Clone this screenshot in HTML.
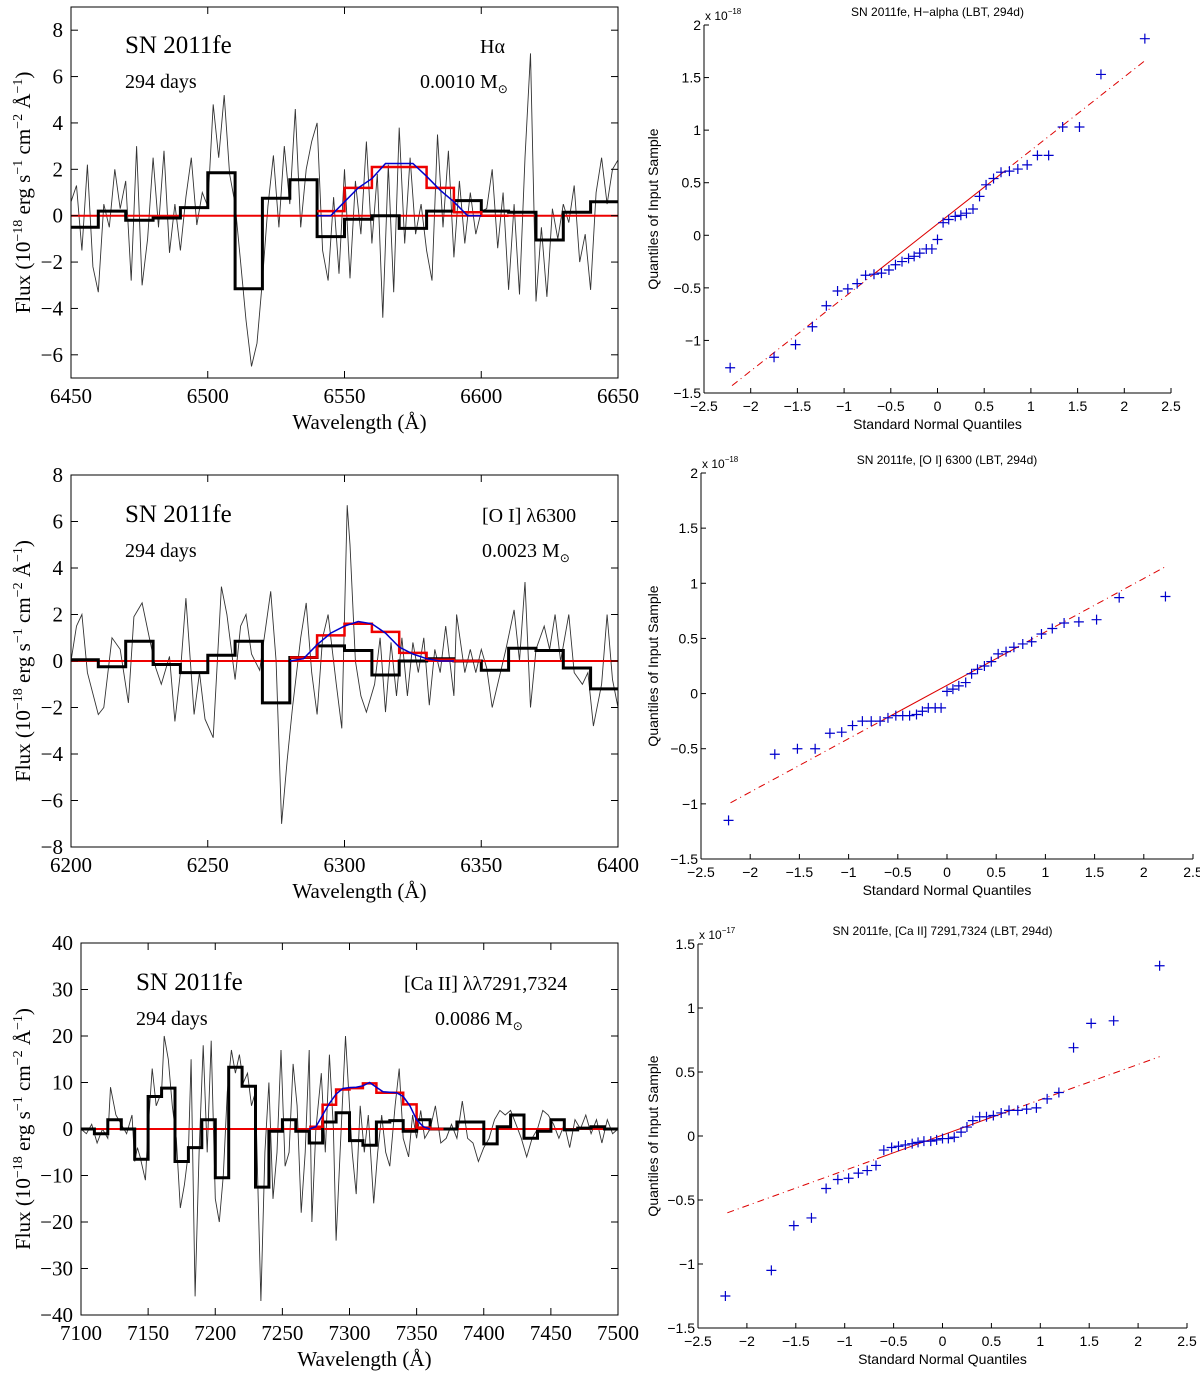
<!DOCTYPE html>
<html><head><meta charset="utf-8"><style>
html,body{margin:0;padding:0;background:#fff;width:1200px;height:1375px;overflow:hidden}
svg{display:block}
.ser{font-family:"Liberation Serif",serif;fill:#000}
.san{font-family:"Liberation Sans",sans-serif;fill:#000}
</style></head><body>
<svg id="fig" width="1200" height="1375" viewBox="0 0 1200 1375" xmlns="http://www.w3.org/2000/svg"></svg>
<script>
// ---------- Spectrum panel data ----------
const p1Flux = [0.6,1.3,-1.5,2.2,-2.2,-3.3,0.5,-0.5,2.0,0.3,1.5,-2.8,3.0,-3.0,-1.0,2.5,-0.5,2.8,-1.6,0.5,-1.5,0.8,2.5,-0.4,1.0,0.4,4.8,2.5,5.2,1.8,0.5,-2.0,-4.5,-6.5,-5.5,-2.8,0.4,2.6,-0.5,3.0,0.5,4.6,-0.5,2.0,3.2,4.0,-1.5,-2.8,0.8,-2.5,2.0,-2.7,1.5,-0.8,3.2,-1.2,1.8,-4.4,2.2,-3.3,3.8,-1.2,2.5,-0.8,0.5,-1.5,-2.8,3.5,-0.5,2.8,-1.8,1.5,-1.2,1.0,-0.8,0.2,0.3,2.0,-1.4,1.0,-3.2,0.5,-3.4,2.5,7.0,-3.7,-0.5,-3.5,0.3,-1.0,0.5,-0.3,1.3,-2.0,-0.8,-3.2,1.0,2.5,0.5,2.0,2.4];
const p1Wave = p1Flux.map((v,i)=>6450+i*2);
const p1Bins = [-0.5,0.2,-0.2,-0.1,0.35,1.85,-3.15,0.75,1.55,-0.9,-0.15,0.0,-0.55,0.2,0.65,0.2,0.15,-1.05,0.15,0.6];
const p1Model = [0,0,0,0,0,0,0,0,0,0.2,1.2,2.1,2.1,1.2,0.15,0,0,0,0,0];
const p1BlueX = [6540,6545,6550,6555,6560,6565,6570,6575,6580,6585,6590,6595,6600];
const p1BlueY = [0,0,0.6,1.2,1.6,2.25,2.25,2.25,1.7,1.1,0.6,0,0];

const p2Wave = [6200,6202,6204,6206,6210,6212,6215,6218,6221,6223,6226,6229,6231,6233,6236,6238,6240,6242,6245,6247,6249,6252,6255,6257,6260,6262,6264,6266,6269,6273,6275,6277,6279,6281,6284,6286,6288,6290,6292,6294,6297,6299,6301,6302,6304,6306,6308,6311,6313,6315,6317,6319,6321,6323,6325,6327,6329,6331,6333,6335,6337,6340,6341,6344,6346,6348,6350,6352,6354,6357,6359,6362,6364,6366,6368,6370,6373,6375,6377,6379,6382,6384,6387,6389,6391,6394,6396,6398,6400];
const p2Flux = [0,1.5,2,-0.5,-2.3,-2,1,0.5,-1.8,1.9,2.5,0.8,-0.3,-1,0.2,-2.6,-0.5,2.7,-2.3,-0.5,-2.5,-3.3,3.2,2,-0.8,1.5,2,0.3,-0.4,3,0,-7,-4.3,-2,1,2.5,-0.5,-2.3,1,2,-1,-2.9,6.7,5,0,-1.5,-2.2,-1,1,-2.2,0.8,-1.5,1,-1.5,0.8,-0.5,1,-1.9,0.5,-0.5,1.5,-1.5,2,-0.5,0.5,-0.5,0.5,-0.3,-2,-0.5,0.5,2.2,0,3.4,-2,0.5,1.5,0.5,2,0,2,-0.5,-1,-0.5,-2.8,-1,2,-0.8,-2];
const p2Bins = [0.05,-0.25,0.85,-0.15,-0.5,0.25,0.85,-1.8,0.15,0.65,0.45,-0.6,0.0,0.1,0.0,-0.4,0.55,0.45,-0.3,-1.2];
const p2Model = [0,0,0,0,0,0,0,0,0.15,1.1,1.6,1.25,0.35,0.05,0,0,0,0,0,0];
const p2BlueX = [6280,6285,6290,6295,6300,6305,6310,6315,6320,6325,6330,6335,6340];
const p2BlueY = [0,0.1,0.7,1.2,1.5,1.7,1.6,1.2,0.6,0.3,0.1,0,0];

const p3Wave = [7100,7104,7108,7112,7116,7120,7122,7126,7130,7134,7138,7140,7142,7144,7148,7150,7153,7156,7160,7162,7165,7168,7171,7174,7177,7180,7182,7185,7188,7191,7194,7197,7200,7203,7206,7209,7212,7215,7218,7221,7224,7227,7230,7232,7234,7237,7240,7243,7246,7249,7252,7255,7258,7261,7264,7267,7270,7272,7275,7279,7282,7285,7288,7290,7293,7297,7300,7302,7305,7308,7311,7314,7318,7321,7324,7327,7330,7334,7337,7340,7344,7347,7350,7353,7356,7360,7364,7368,7372,7376,7380,7384,7388,7392,7396,7400,7404,7408,7412,7416,7420,7424,7428,7432,7436,7440,7444,7448,7452,7456,7460,7464,7468,7472,7476,7480,7484,7488,7492,7496,7500];
const p3Flux = [0,-1,1,-3,0,-2,9,3,1,-1,3,-7,-4,-6,-11,0,13,5,8,20,15,5,-2,-17,-12,-5,15,-36,-5,18,-5,19,-15,-20,-10,8,17,12,16,10,12,5,8,-15,-37,-5,10,-15,-5,17,-8,-5,14,5,-18,-5,17,-20,0,12,-5,16,0,-24,-5,20,5,-5,-14,5,-5,3,-16,-5,3,-5,-8,5,13,-2,-6,3,-2,4,-2,0,5,-3,-2,1,-2,6,-2,-3,-7,-4,-2,2,4,3,4,1,-2,-6,-2,0,4,3,1,-2,1,-4,2,0,3,-1,2,-3,2,-1,0];
const p3Bins = [0,-1,2,0,-6.5,7,8.8,-7,-4,2,-10.5,13.3,9.2,-12.5,-0.5,2,-0.5,-3,1.5,3.5,-2.5,-3.5,1.5,1.8,-0.5,2,0,0,1.5,1.5,-3.2,0.5,3,-2,-0.5,2,-0.2,0.2,0.5,0];
const p3Model = [0,0,0,0,0,0,0,0,0,0,0,0,0,0,0,0,0,0.5,5.2,8.5,8.8,9.8,7.8,7.8,5.3,0.3,0,0,0,0,0,0,0,0,0,0,0,0,0,0];
const p3BlueX = [7270,7275,7280,7285,7290,7295,7300,7305,7310,7315,7320,7325,7330,7335,7340,7345,7350,7355,7360];
const p3BlueY = [0,0.5,3,5.5,7.5,8.7,8.9,9,9.3,10,9,8,7.9,7.8,7,5,2,0.5,0];

// ---------- QQ data ----------
const qqX = [-2.22,-1.75,-1.52,-1.34,-1.19,-1.07,-0.96,-0.86,-0.77,-0.68,-0.6,-0.52,-0.45,-0.38,-0.31,-0.25,-0.19,-0.12,-0.06,0,0.06,0.12,0.19,0.25,0.31,0.38,0.45,0.52,0.6,0.68,0.77,0.86,0.96,1.07,1.19,1.34,1.52,1.75,2.22];
const qq1Y = [-1.26,-1.16,-1.04,-0.87,-0.67,-0.53,-0.51,-0.46,-0.38,-0.37,-0.36,-0.33,-0.28,-0.25,-0.22,-0.2,-0.17,-0.13,-0.13,-0.04,0.12,0.15,0.18,0.19,0.21,0.25,0.37,0.48,0.54,0.6,0.61,0.63,0.67,0.76,0.76,1.03,1.03,1.53,1.87];
const qq2Y = [-1.15,-0.55,-0.5,-0.5,-0.36,-0.35,-0.29,-0.25,-0.25,-0.25,-0.22,-0.2,-0.2,-0.2,-0.19,-0.16,-0.13,-0.13,-0.13,0.02,0.04,0.07,0.1,0.18,0.22,0.25,0.29,0.36,0.38,0.42,0.45,0.47,0.54,0.59,0.64,0.65,0.67,0.87,0.88];
const qq3Y = [-1.25,-1.05,-0.7,-0.64,-0.41,-0.34,-0.33,-0.29,-0.27,-0.23,-0.11,-0.09,-0.08,-0.07,-0.06,-0.05,-0.04,-0.04,-0.03,-0.02,-0.02,-0.01,0.03,0.07,0.12,0.15,0.15,0.16,0.18,0.2,0.2,0.21,0.22,0.29,0.34,0.69,0.88,0.9,1.33];
const qq1LineY = [-1.43,1.66];
const qq2LineY = [-0.99,1.15];
const qq3LineY = [-0.6,0.62];
const qqLineX = [-2.2,2.22];
const qqTicks = ['-2.5','-2','-1.5','-1','-0.5','0','0.5','1','1.5','2','2.5'];

const NS='http://www.w3.org/2000/svg';
const fig=document.getElementById('fig');
function mk(parent,tag,attrs,name,inter){
  const el=document.createElementNS(NS,tag);
  for(const k in attrs) el.setAttribute(k,attrs[k]);
  
  
  parent.appendChild(el); return el;
}
function txt(parent,x,y,s,cls,size,name,anchor,extra){
  const t=mk(parent,'text',Object.assign({x:x,y:y,'font-size':size,'text-anchor':anchor||'start',class:cls},extra||{}),name,false);
  t.innerHTML=s; return t;
}

function spectrum(cfg){
  const g=mk(fig,'g',{},cfg.name,false);
  const sx=v=>cfg.L+(v-cfg.x0)/(cfg.x1-cfg.x0)*(cfg.R-cfg.L);
  const sy=v=>cfg.T+(cfg.y1-v)/(cfg.y1-cfg.y0)*(cfg.B-cfg.T);
  const clip='c'+cfg.name;
  const cp=mk(g,'clipPath',{id:clip},'clip',false);
  mk(cp,'rect',{x:cfg.L,y:cfg.T,width:cfg.R-cfg.L,height:cfg.B-cfg.T},'clip-rect',false);
  const pg=mk(g,'g',{'clip-path':'url(#'+clip+')'},'plot-area',false);
  let d='';
  cfg.flux.forEach((v,i)=>{d+=(i?'L':'M')+sx(cfg.wave[i]).toFixed(1)+','+sy(v).toFixed(1);});
  mk(pg,'path',{d:d,fill:'none',stroke:'#333','stroke-width':0.9},'observed-spectrum',false);
  mk(pg,'line',{x1:cfg.L,x2:cfg.R,y1:sy(0),y2:sy(0),stroke:'#e00','stroke-width':2},'zero-line',false);
  function steps(vals,skipZero){
    let s='';let started=false;
    vals.forEach((v,i)=>{const xa=sx(cfg.x0+i*10), xb=sx(cfg.x0+(i+1)*10);
      if(skipZero&&v===0&&(i===0||vals[i-1]===0)){started=false;return;}
      s+=(started?'L':'M')+xa.toFixed(1)+','+sy(v).toFixed(1)+'L'+xb.toFixed(1)+','+sy(v).toFixed(1);started=true;
      if(skipZero&&v===0) started=false;});
    return s;}
  mk(pg,'path',{d:steps(cfg.bins,false),fill:'none',stroke:'#000','stroke-width':3},'binned-spectrum',false);
  mk(pg,'path',{d:steps(cfg.model,true),fill:'none',stroke:'#e00','stroke-width':2.5},'binned-model',false);
  let b='';cfg.bx.forEach((x,i)=>{b+=(i?'L':'M')+sx(x).toFixed(1)+','+sy(cfg.by[i]).toFixed(1);});
  mk(pg,'path',{d:b,fill:'none',stroke:'#00c','stroke-width':1.5},'model-line',false);
  mk(g,'rect',{x:cfg.L,y:cfg.T,width:cfg.R-cfg.L,height:cfg.B-cfg.T,fill:'none',stroke:'#000','stroke-width':1},'axes-frame',false);
  for(let v=cfg.x0;v<=cfg.x1;v+=cfg.xs){const x=sx(v);
    mk(g,'line',{x1:x,x2:x,y1:cfg.B,y2:cfg.B-7,stroke:'#000'},'x-tick',false);
    mk(g,'line',{x1:x,x2:x,y1:cfg.T,y2:cfg.T+7,stroke:'#000'},'x-tick-top',false);
    txt(g,x,cfg.B+25,String(v),'ser',21,'x-tick-label','middle');}
  for(let v=cfg.ly0;v<=cfg.y1;v+=cfg.ys){const y=sy(v);
    mk(g,'line',{x1:cfg.L,x2:cfg.L+7,y1:y,y2:y,stroke:'#000'},'y-tick',false);
    mk(g,'line',{x1:cfg.R,x2:cfg.R-7,y1:y,y2:y,stroke:'#000'},'y-tick-right',false);
    txt(g,cfg.L-8,y+7,(v<0?'\u2212':'')+Math.abs(v),'ser',21,'y-tick-label','end');}
  txt(g,(cfg.L+cfg.R)/2+15,cfg.B+51,'Wavelength (Å)','ser',21,'x-axis-title','middle');
  const cy=(cfg.T+cfg.B)/2;
  txt(g,30,cy,'Flux (10<tspan dy="-8" font-size="14">−18</tspan><tspan dy="8"> erg s</tspan><tspan dy="-8" font-size="14">−1</tspan><tspan dy="8"> cm</tspan><tspan dy="-8" font-size="14">−2</tspan><tspan dy="8"> Å</tspan><tspan dy="-8" font-size="14">−1</tspan><tspan dy="8">)</tspan>','ser',21,'y-axis-title','middle',{transform:'rotate(-90 30 '+cy+')'});
  txt(g,cfg.t1x,cfg.t1y,'SN 2011fe','ser',25,'supernova-label','start');
  txt(g,cfg.t1x,cfg.t1y+35,'294 days','ser',20,'epoch-label','start');
  txt(g,cfg.t2x,cfg.t1y,cfg.line,'ser',20,'line-label','start');
  txt(g,cfg.t3x,cfg.t1y+35,cfg.mass+' M<tspan dy="5" font-size="12">⊙</tspan>','ser',20,'mass-label','start');
}

spectrum({name:'panel-halpha',L:71,R:618,T:7,B:378,x0:6450,x1:6650,y0:-7,y1:9,ly0:-6,xs:50,ys:2,wave:p1Wave,flux:p1Flux,bins:p1Bins,model:p1Model,bx:p1BlueX,by:p1BlueY,t1x:125,t1y:53,t2x:480,t3x:420,line:'Hα',mass:'0.0010'});
spectrum({name:'panel-oi',L:71,R:618,T:475,B:847,x0:6200,x1:6400,y0:-8,y1:8,ly0:-8,xs:50,ys:2,wave:p2Wave,flux:p2Flux,bins:p2Bins,model:p2Model,bx:p2BlueX,by:p2BlueY,t1x:125,t1y:522,t2x:482,t3x:482,line:'[O I] λ6300',mass:'0.0023'});
spectrum({name:'panel-caii',L:81,R:618,T:943,B:1315,x0:7100,x1:7500,y0:-40,y1:40,ly0:-40,xs:50,ys:10,wave:p3Wave,flux:p3Flux,bins:p3Bins,model:p3Model,bx:p3BlueX,by:p3BlueY,t1x:136,t1y:990,t2x:404,t3x:435,line:'[Ca II] λλ7291,7324',mass:'0.0086'});

function qq(cfg){
  const g=mk(fig,'g',{},cfg.name,false);
  const sx=v=>cfg.L+(v+2.5)/5*(cfg.R-cfg.L);
  const sy=v=>cfg.T+(cfg.y1-v)/(cfg.y1-cfg.y0)*(cfg.B-cfg.T);
  mk(g,'line',{x1:cfg.L,x2:cfg.R,y1:cfg.B,y2:cfg.B,stroke:'#000'},'x-axis',false);
  mk(g,'line',{x1:cfg.L,x2:cfg.L,y1:cfg.T,y2:cfg.B,stroke:'#000'},'y-axis',false);
  qqTicks.forEach(t=>{const x=sx(parseFloat(t));
    mk(g,'line',{x1:x,x2:x,y1:cfg.B,y2:cfg.B-5,stroke:'#000'},'x-tick',false);
    txt(g,x,cfg.B+18,t.replace('-','\u2212'),'san',14,'x-tick-label','middle');});
  cfg.yt.forEach(t=>{const y=sy(parseFloat(t));
    mk(g,'line',{x1:cfg.L,x2:cfg.L+5,y1:y,y2:y,stroke:'#000'},'y-tick',false);
    txt(g,cfg.L-3,y+5,t.replace('-','\u2212'),'san',14,'y-tick-label','end');});
  txt(g,cfg.L+1,cfg.T-5,'x 10<tspan dy="-6" font-size="8">'+cfg.exp+'</tspan>','san',12,'y-scale-exponent','start');
  txt(g,(cfg.L+cfg.R)/2,cfg.T-9,cfg.title,'san',12,'chart-title','middle');
  txt(g,(cfg.L+cfg.R)/2,cfg.B+36,'Standard Normal Quantiles','san',14,'x-axis-title','middle');
  const cy=(cfg.T+cfg.B)/2;
  txt(g,658,cy,'Quantiles of Input Sample','san',14,'y-axis-title','middle',{transform:'rotate(-90 658 '+cy+')'});
  const m=(cfg.ly[1]-cfg.ly[0])/(qqLineX[1]-qqLineX[0]);
  const f=x=>cfg.ly[0]+(x-qqLineX[0])*m;
  mk(g,'line',{x1:sx(qqLineX[0]),y1:sy(cfg.ly[0]),x2:sx(-0.67),y2:sy(f(-0.67)),stroke:'#d00','stroke-width':1,'stroke-dasharray':'7,4,1,4'},'reference-line-dashed-left',false);
  mk(g,'line',{x1:sx(-0.67),y1:sy(f(-0.67)),x2:sx(0.67),y2:sy(f(0.67)),stroke:'#d00','stroke-width':1},'reference-line',false);
  mk(g,'line',{x1:sx(0.67),y1:sy(f(0.67)),x2:sx(qqLineX[1]),y2:sy(cfg.ly[1]),stroke:'#d00','stroke-width':1,'stroke-dasharray':'7,4,1,4'},'reference-line-dashed-right',false);
  qqX.forEach((x,i)=>{const px=sx(x),py=sy(cfg.ys[i]);
    mk(g,'path',{d:'M'+(px-5)+','+py+'H'+(px+5)+'M'+px+','+(py-5)+'V'+(py+5),stroke:'#0000cc','stroke-width':1.2,fill:'none'},'data-point',false);});
}
qq({name:'qq-halpha',L:704,R:1171,T:25,B:393,y0:-1.5,y1:2,yt:['-1.5','-1','-0.5','0','0.5','1','1.5','2'],ys:qq1Y,ly:qq1LineY,exp:'−18',title:'SN 2011fe, H−alpha (LBT, 294d)'});
qq({name:'qq-oi',L:701,R:1193,T:473,B:859,y0:-1.5,y1:2,yt:['-1.5','-1','-0.5','0','0.5','1','1.5','2'],ys:qq2Y,ly:qq2LineY,exp:'−18',title:'SN 2011fe, [O I] 6300 (LBT, 294d)'});
qq({name:'qq-caii',L:698,R:1187,T:944,B:1328,y0:-1.5,y1:1.5,yt:['-1.5','-1','-0.5','0','0.5','1','1.5'],ys:qq3Y,ly:qq3LineY,exp:'−17',title:'SN 2011fe, [Ca II] 7291,7324 (LBT, 294d)'});
</script>
</body></html>
